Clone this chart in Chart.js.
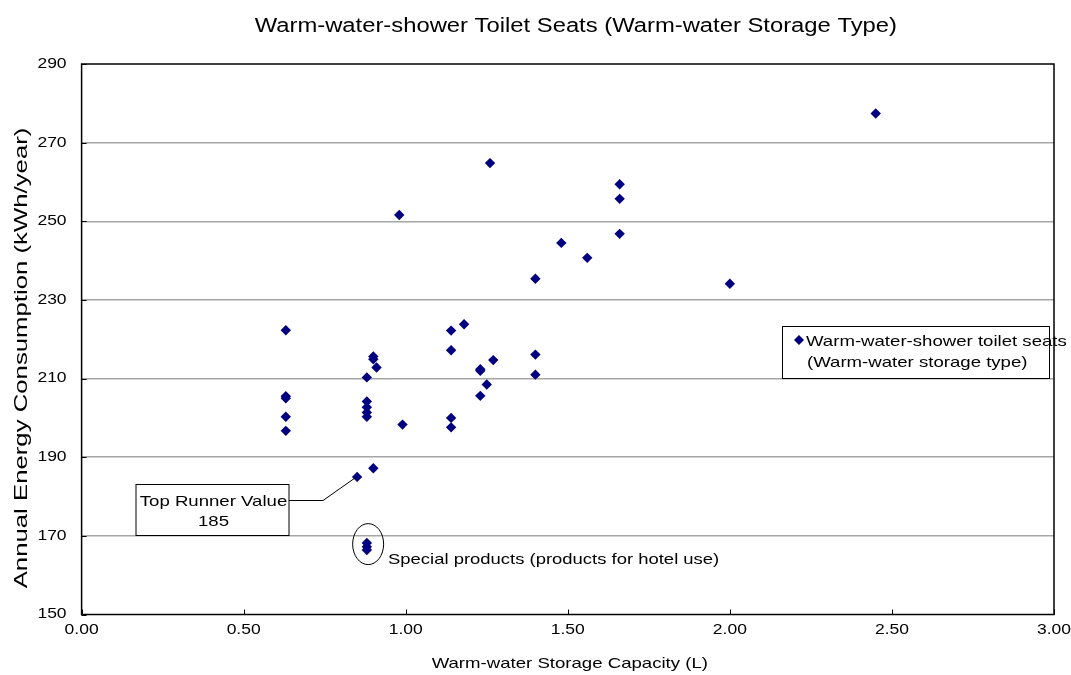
<!DOCTYPE html>
<html>
<head>
<meta charset="utf-8">
<script src="https://cdn.jsdelivr.net/npm/chart.js@4"></script>
<style>
  html, body { margin: 0; padding: 0; background: #fff; }
  #wrap { width: 1071px; height: 675px; }
</style>
</head>
<body>
<div id="wrap"><canvas id="chart" width="1071" height="675"></canvas></div>
<script>
// Chart data
const capacity = [0.63, 0.63, 0.63, 0.63, 0.63, 0.85, 0.88, 0.88, 0.88, 0.88, 0.88,
    0.90, 0.90, 0.91, 0.90, 0.88, 0.88, 0.88, 0.98, 0.99, 1.14, 1.14, 1.14, 1.14,
    1.18, 1.23, 1.23, 1.23, 1.25, 1.26, 1.27, 1.40, 1.40, 1.40, 1.48, 1.56,
    1.66, 1.66, 1.66, 2.00, 2.45];
const consumption = [222.3, 205.5, 205.0, 200.3, 196.7, 185.0, 210.3, 204.2, 202.7, 201.4, 200.3,
    215.6, 214.9, 212.8, 187.2, 168.2, 167.2, 166.4, 251.6, 198.3, 222.2, 217.2, 200.0, 197.6,
    223.8, 212.4, 212.0, 205.6, 208.5, 264.8, 214.7, 235.4, 216.1, 211.0, 244.5, 240.7,
    259.4, 255.7, 246.8, 234.1, 277.4];
const xTicks = [0, 0.5, 1.0, 1.5, 2.0, 2.5, 3.0];
const yTicks = [150, 170, 190, 210, 230, 250, 270, 290];

const chartTitle = 'Warm-water-shower Toilet Seats (Warm-water Storage Type)';
const xTitle = 'Warm-water Storage Capacity (L)';
const yTitle = 'Annual Energy Consumption (kWh/year)';
const seriesLabel = ['Warm-water-shower toilet seats', '(Warm-water storage type)'];
const topRunnerText = ['Top Runner Value', '185'];
const topRunnerPoint = { x: 0.85, y: 185 };
const specialText = 'Special products (products for hotel use)';
const specialCenter = { x: 0.884, y: 167.9 };

const FONT = '"Liberation Sans", Arial, sans-serif';
const navy = '#000080';

const points = capacity.map((c, i) => ({ x: c, y: consumption[i] }));

// the reference text is drawn a bit wider than plain Arial
function stretchText(ctx, text, x, y, size, sx, align, rot) {
    ctx.save();
    ctx.translate(x, y);
    if (rot) ctx.rotate(rot);
    ctx.scale(sx, 1);
    ctx.font = size + 'px ' + FONT;
    ctx.fillStyle = '#000';
    ctx.textAlign = align || 'center';
    ctx.textBaseline = 'middle';
    ctx.fillText(text, 0, 0);
    ctx.restore();
}

// frame, inward ticks, labels, legend box and annotations
const extras = {
    id: 'extras',
    beforeDatasetsDraw(chart) {
        const { ctx, chartArea: a, scales: { x, y } } = chart;
        ctx.save();
        ctx.strokeStyle = '#000';
        ctx.lineWidth = 1.5;
        ctx.strokeRect(a.left, a.top, a.right - a.left, a.bottom - a.top);
        ctx.lineWidth = 1;
        ctx.beginPath();
        xTicks.forEach(v => {
            const px = Math.round(x.getPixelForValue(v)) + 0.5;
            ctx.moveTo(px, a.bottom);
            ctx.lineTo(px, a.bottom - 5);
        });
        yTicks.forEach(v => {
            const py = Math.round(y.getPixelForValue(v)) + 0.5;
            ctx.moveTo(a.left, py);
            ctx.lineTo(a.left + 5, py);
        });
        ctx.stroke();
        ctx.restore();

        // tick labels and titles
        xTicks.forEach(v => stretchText(ctx, v.toFixed(2), x.getPixelForValue(v), a.bottom + 16, 14, 1.25));
        yTicks.forEach(v => stretchText(ctx, String(v), a.left - 15, y.getPixelForValue(v), 14, 1.25, 'right'));
        stretchText(ctx, chartTitle, (a.left + a.right) / 2 + 8, 26, 20, 1.19);
        stretchText(ctx, xTitle, (a.left + a.right) / 2 + 2, 664, 15, 1.24);
        stretchText(ctx, yTitle, 22, 358, 18, 1.43, 'center', -Math.PI / 2);
    },
    afterDraw(chart) {
        const { ctx, scales: { x, y } } = chart;
        ctx.save();
        ctx.strokeStyle = '#000';
        ctx.lineWidth = 1;

        // legend box
        const lx = 782.5, ly = 326.5, lw = 267, lh = 52;
        ctx.fillStyle = '#fff';
        ctx.fillRect(lx, ly, lw, lh);
        ctx.strokeRect(lx, ly, lw, lh);
        ctx.fillStyle = navy;
        ctx.beginPath();
        ctx.moveTo(799, 335); ctx.lineTo(804, 340); ctx.lineTo(799, 345); ctx.lineTo(794, 340);
        ctx.closePath();
        ctx.fill();
        stretchText(ctx, seriesLabel[0], 806, 342, 15, 1.24, 'left');
        stretchText(ctx, seriesLabel[1], 807, 363, 15, 1.24, 'left');

        // top runner annotation
        const px = x.getPixelForValue(topRunnerPoint.x);
        const py = y.getPixelForValue(topRunnerPoint.y);
        const bx = 136, by = 484.5, bw = 153, bh = 51;
        ctx.beginPath();
        ctx.moveTo(bx + bw, 500.5);
        ctx.lineTo(323, 500.5);
        ctx.lineTo(px - 2, py + 1);
        ctx.stroke();
        ctx.fillStyle = '#fff';
        ctx.fillRect(bx, by, bw, bh);
        ctx.strokeRect(bx, by, bw, bh);
        stretchText(ctx, topRunnerText[0], bx + bw / 2 + 1, 502, 15, 1.24);
        stretchText(ctx, topRunnerText[1], bx + bw / 2 + 1, 522, 15, 1.24);

        // special products ellipse + label
        const ex = x.getPixelForValue(specialCenter.x);
        const ey = y.getPixelForValue(specialCenter.y);
        ctx.beginPath();
        ctx.ellipse(ex, ey, 15.5, 20.5, 0, 0, Math.PI * 2);
        ctx.stroke();
        stretchText(ctx, specialText, 388, 560, 15, 1.23, 'left');
        ctx.restore();
    }
};

new Chart(document.getElementById('chart'), {
    type: 'scatter',
    data: {
        datasets: [{
            label: seriesLabel.join(' '),
            data: points,
            pointStyle: 'rectRot',
            pointRadius: 5.2,
            pointHoverRadius: 5.2,
            backgroundColor: navy,
            borderColor: navy,
            borderWidth: 0
        }]
    },
    options: {
        responsive: false,
        animation: false,
        devicePixelRatio: 1,
        layout: { padding: { left: 81.6, right: 17, top: 64, bottom: 60.5 } },
        plugins: {
            legend: { display: false },
            tooltip: { enabled: false },
            title: { display: false }
        },
        scales: {
            x: {
                type: 'linear',
                min: 0,
                max: 3,
                afterBuildTicks: s => { s.ticks = xTicks.map(v => ({ value: v })); },
                afterFit: s => { s.height = 0; },
                grid: { display: false, drawTicks: false },
                border: { display: false },
                ticks: { display: false }
            },
            y: {
                type: 'linear',
                min: 150,
                max: 290,
                afterBuildTicks: s => { s.ticks = yTicks.map(v => ({ value: v })); },
                afterFit: s => { s.width = 0; },
                grid: {
                    color: ctx => (ctx.tick && (ctx.tick.value === 150 || ctx.tick.value === 290)) ? 'rgba(0,0,0,0)' : '#a6a6a6',
                    lineWidth: 1.5,
                    drawTicks: false
                },
                border: { display: false },
                ticks: { display: false }
            }
        }
    },
    plugins: [extras]
});
</script>
</body>
</html>
